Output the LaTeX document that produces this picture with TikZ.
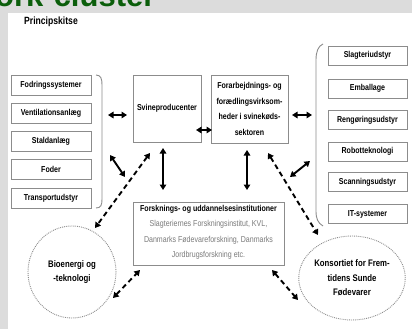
\documentclass[tikz,border=0pt]{standalone}
\usepackage{fontspec}
\setmainfont{Liberation Sans}
\newfontfamily\narrowfont[FakeStretch=0.82]{Liberation Sans}
\usetikzlibrary{arrows.meta,shapes.geometric}
\definecolor{bggray}{HTML}{DCDCDC}
\definecolor{titlegreen}{HTML}{0B5E0B}
\definecolor{boxline}{HTML}{8C8C8C}
\definecolor{subtext}{HTML}{7A7A7A}
\begin{document}
\begin{tikzpicture}[x=1pt,y=-1pt,
  box/.style={draw=boxline,line width=0.9pt,fill=white,inner sep=1pt,align=center,
    font=\narrowfont\bfseries\fontsize{8.6}{15.5}\selectfont},
  leftbox/.style={box,minimum width=80pt,minimum height=20pt},
  rightbox/.style={box,minimum width=79pt,minimum height=19pt},
  bigbox/.style={box},
  oval/.style={ellipse,draw=boxline,densely dotted,line width=0.9pt,align=center,inner sep=0pt,
    font=\narrowfont\bfseries\fontsize{9.5}{14.5}\selectfont},
  solidarrow/.style={line width=1.9pt,{Triangle[length=5.5pt,width=6.5pt]}-{Triangle[length=5.5pt,width=6.5pt]}},
  dasharrow/.style={solidarrow,dash pattern=on 5pt off 3.5pt},
  bracket/.style={draw=boxline,line width=0.9pt}
]
\useasboundingbox (0,0) rectangle (412,329);
\fill[bggray] (0,0) rectangle (412,329);
\fill[white] (8,13) rectangle (412,329);
\node[anchor=base west,inner sep=0pt,text=titlegreen,font=\bfseries\fontsize{31}{31}\selectfont] (title) at (-5,7) {ork-cluster};
\node[anchor=west,inner sep=0pt,font=\narrowfont\bfseries\fontsize{10.5}{12}\selectfont] (princip) at (24,22) {Principskitse};

% left group
\node[leftbox] (fod) at (51,85) {Fodringssystemer};
\node[leftbox] (ven) at (51,113.5) {Ventilationsanlæg};
\node[leftbox] (sta) at (51,141.5) {Staldanlæg};
\node[leftbox] (fdr) at (51,169.5) {Foder};
\node[leftbox] (tra) at (51,198) {Transportudstyr};
\draw[bracket] (96,75) .. controls (101,75) and (102,79) .. (102,85) -- (102,199) .. controls (102,205) and (101,208) .. (96,208);

% right group
\node[rightbox] (sla) at (367.5,55.5) {Slagteriudstyr};
\node[rightbox] (emb) at (367.5,88.5) {Emballage};
\node[rightbox] (ren) at (367.5,120) {Rengøringsudstyr};
\node[rightbox] (rob) at (367.5,151.5) {Robotteknologi};
\node[rightbox] (sca) at (367.5,182) {Scanningsudstyr};
\node[rightbox] (its) at (367.5,214) {IT-systemer};
\draw[bracket] (323,44) .. controls (318,46) and (316,52) .. (316,60) -- (316,211) .. controls (316,219) and (318,223) .. (323,226);

% centre
\node[bigbox,minimum width=68pt,minimum height=67pt,inner sep=0pt] (svi) at (167,108.5) {Svineproducenter};
\node[bigbox,minimum width=77pt,minimum height=68pt,inner sep=0pt] (for) at (249.5,109) {Forarbejdnings- og\\forædlingsvirksom-\\heder i svinekøds-\\sektoren};
\node[bigbox,minimum width=151pt,minimum height=63pt,anchor=north,inner sep=0pt] (fsk) at (208.5,202) {\rule{0pt}{2pt}\\[-15pt]Forsknings- og uddannelsesinstitutioner\\
  \mdseries\color{subtext}Slagteriernes Forskningsinstitut, KVL,\\
  \mdseries\color{subtext}Danmarks Fødevareforskning, Danmarks\\
  \mdseries\color{subtext}Jordbrugsforskning etc.};

\node[oval,minimum width=88pt,minimum height=92pt] (bio) at (72,272) {Bioenergi og\\-teknologi};
\node[oval,minimum width=106pt,minimum height=84pt] (kon) at (352,278) {Konsortiet for Frem-\\tidens Sunde\\Fødevarer};

% anchor coordinates
\coordinate (lb) at (108,115);
\coordinate (svl) at (127,115);
\coordinate (sfA) at (196,130);
\coordinate (sfB) at (212,130);
\coordinate (fr) at (292,115);
\coordinate (rb) at (312,115);
\coordinate (svb) at (163,148);
\coordinate (fsa) at (163,190);
\coordinate (frb) at (247,150);
\coordinate (fsb) at (247,190);
\coordinate (lbd) at (110,155);
\coordinate (fsc) at (125,177);
\coordinate (rbd) at (310,161);
\coordinate (fsd) at (290,177);
\coordinate (svd) at (150,153);
\coordinate (bioa) at (95,228);
\coordinate (biob) at (113,298);
\coordinate (fse) at (140,270);
\coordinate (frd) at (268,153);
\coordinate (kona) at (318,235);
\coordinate (fsf) at (272,270);
\coordinate (konb) at (298,300);

\draw[solidarrow] (lb) -- (svl);
\draw[solidarrow] (sfA) -- (sfB);
\draw[solidarrow] (fr) -- (rb);
\draw[solidarrow] (svb) -- (fsa);
\draw[solidarrow] (frb) -- (fsb);
\draw[solidarrow] (lbd) -- (fsc);
\draw[solidarrow] (fsd) -- (rbd);
\draw[dasharrow] (svd) -- (bioa);
\draw[dasharrow] (biob) -- (fse);
\draw[dasharrow] (frd) -- (kona);
\draw[dasharrow] (fsf) -- (konb);
\end{tikzpicture}
\end{document}
